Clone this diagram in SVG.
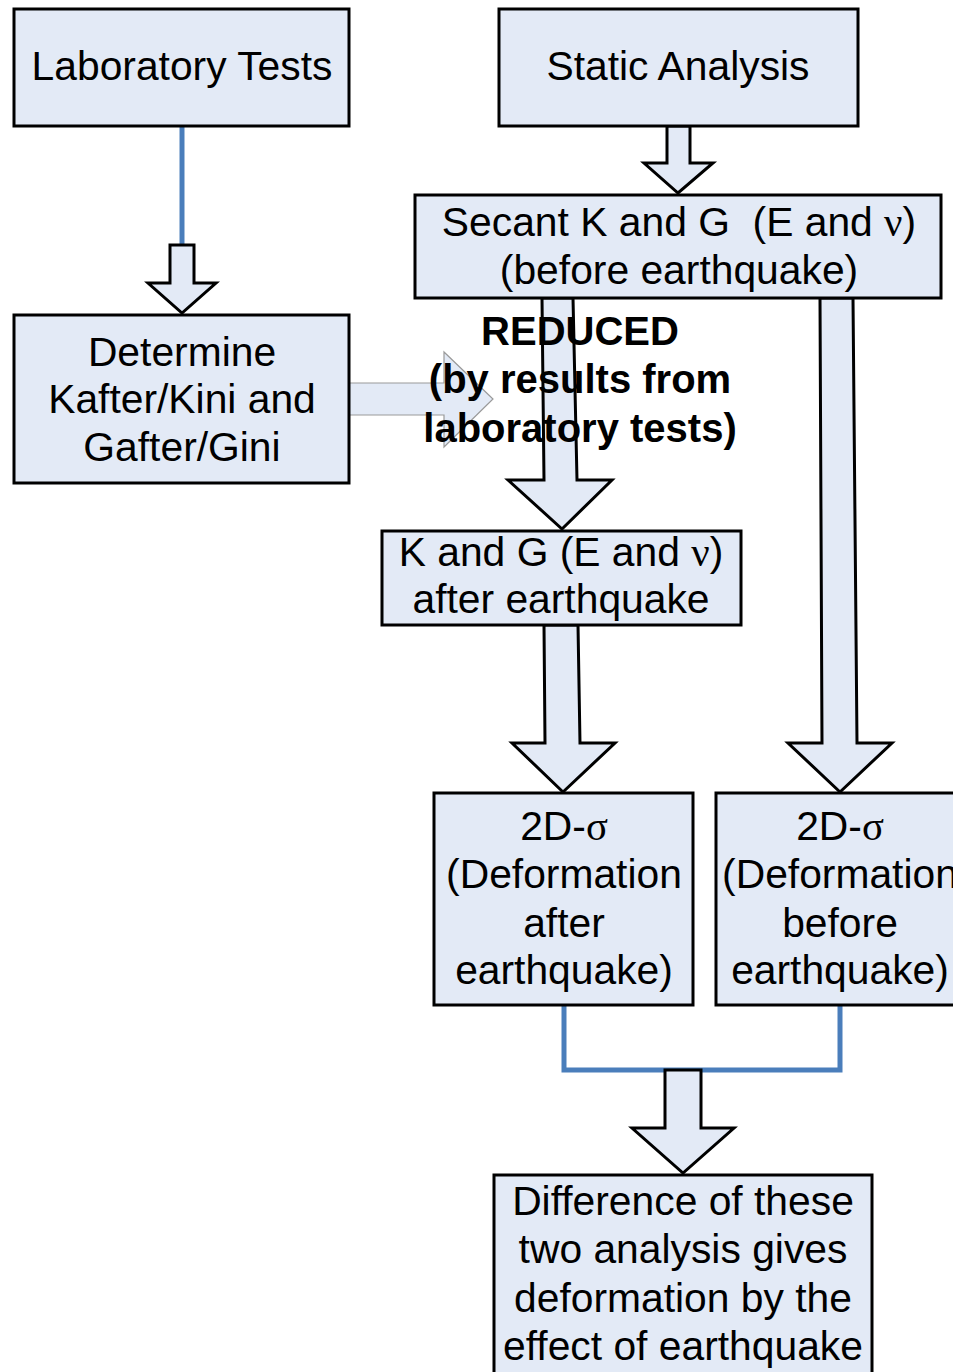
<svg xmlns="http://www.w3.org/2000/svg" width="953" height="1372" viewBox="0 0 953 1372">
<style>
.box{fill:#e3eaf6;stroke:#000;stroke-width:3}
.blk{fill:#e3eaf6;stroke:#000;stroke-width:3;stroke-linejoin:miter}
.thin{fill:#e3eaf6;stroke:#9a9a9a;stroke-width:1.2}
.blue{fill:none;stroke:#4a7ebb;stroke-width:5}
.t{font-family:"Liberation Sans",Arial,sans-serif;font-size:40.8px;fill:#000;text-anchor:middle}
.b{font-family:"Liberation Sans",Arial,sans-serif;font-size:40px;font-weight:bold;fill:#000;text-anchor:middle}
.g{font-family:"Liberation Serif","Times New Roman",serif}
</style>
<rect width="953" height="1372" fill="#fff"/>
<g id="connectors">
<line class="blue" x1="182" y1="126" x2="182" y2="246"/>
<polygon class="blk" points="170,245 194,245 194,283 216,283 182,313 148,283 170,283"/>
<polygon class="blk" points="667,126 690,126 690,163 713,163 678,193 644,163 667,163"/>
<polygon class="thin" points="349,383 444,383 444,352 493,399 444,447 444,415 349,415"/>
<polygon class="blk" points="542,298 573,298 577,480 612,480 562,529 508,480 544,480"/>
<polygon class="blk" points="820,298 853,298 857,743 892,743 840,792 788,743 822,743"/>
<polygon class="blk" points="544,625 578,625 580,743 615,743 563,792 512,743 545,743"/>
<polyline class="blue" points="564,1005 564,1070 840,1070 840,1005"/>
<polygon class="blk" points="665,1070 701,1070 701,1128 734,1128 683,1173 632,1128 665,1128"/>
</g>
<g id="lab">
<rect class="box" x="14" y="9" width="335" height="117"/>
<text class="t" x="182" y="80">Laboratory Tests</text>
</g>
<g id="static">
<rect class="box" x="499" y="9" width="359" height="117"/>
<text class="t" x="678" y="80">Static Analysis</text>
</g>
<g id="secant">
<rect class="box" x="415" y="195" width="526" height="103"/>
<text class="t" x="679" y="236" xml:space="preserve">Secant K and G  (E and <tspan class="g">ν</tspan>)</text>
<text class="t" x="679" y="284">(before earthquake)</text>
</g>
<g id="determine">
<rect class="box" x="14" y="315" width="335" height="168"/>
<text class="t" x="182" y="366">Determine</text>
<text class="t" x="182" y="413">Kafter/Kini and</text>
<text class="t" x="182" y="461">Gafter/Gini</text>
</g>
<g id="kg">
<rect class="box" x="382" y="531" width="359" height="94"/>
<text class="t" x="561" y="566">K and G (E and <tspan class="g">ν</tspan>)</text>
<text class="t" x="561" y="613">after earthquake</text>
</g>
<g id="d2after">
<rect class="box" x="434" y="793" width="259" height="212"/>
<text class="t" x="564" y="840">2D-<tspan class="g">σ</tspan></text>
<text class="t" x="564" y="888">(Deformation</text>
<text class="t" x="564" y="937">after</text>
<text class="t" x="564" y="984">earthquake)</text>
</g>
<g id="d2before">
<rect class="box" x="716" y="793" width="260" height="212"/>
<text class="t" x="840" y="840">2D-<tspan class="g">σ</tspan></text>
<text class="t" x="840" y="888">(Deformation</text>
<text class="t" x="840" y="937">before</text>
<text class="t" x="840" y="984">earthquake)</text>
</g>
<g id="result">
<rect class="box" x="494" y="1175" width="378" height="210"/>
<text class="t" x="683" y="1215">Difference of these</text>
<text class="t" x="683" y="1263">two analysis gives</text>
<text class="t" x="683" y="1312">deformation by the</text>
<text class="t" x="683" y="1360">effect of earthquake</text>
</g>
<g id="reduced-label">
<text class="b" x="580" y="345">REDUCED</text>
<text class="b" x="580" y="393">(by results from</text>
<text class="b" x="580" y="442">laboratory tests)</text>
</g>
</svg>
